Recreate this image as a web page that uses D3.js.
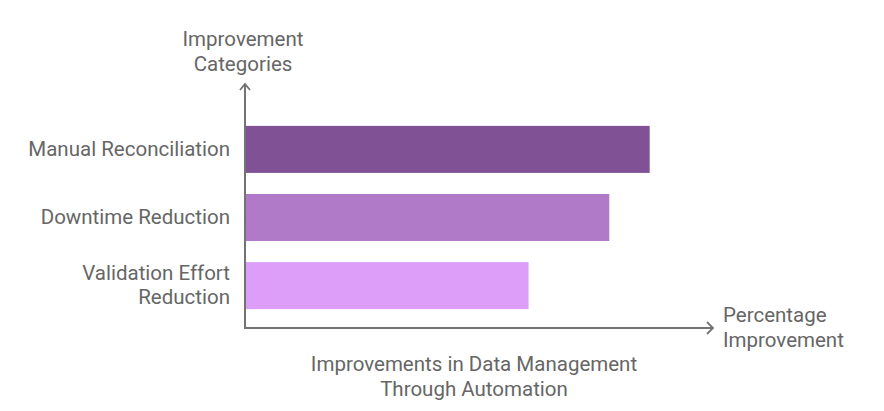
<!DOCTYPE html>
<html><head><meta charset="utf-8">
<script src="https://cdn.jsdelivr.net/npm/d3@7"></script>
<style>html,body{margin:0;padding:0;background:#fff;}</style>
</head><body>
<svg id="c" width="884" height="411"></svg>
<script>
const categories = ["Manual Reconciliation", "Downtime Reduction", "Validation Effort Reduction"];
const values = [50, 45, 35];
const colors = ["#805295", "#b07ac9", "#dc9ef8"];
const labelLines = [["Manual Reconciliation"], ["Downtime Reduction"], ["Validation Effort", "Reduction"]];
const yTitle = ["Improvement", "Categories"];
const xTitle = ["Percentage", "Improvement"];
const chartTitle = ["Improvements in Data Management", "Through Automation"];

const svg = d3.select("#c");
const font = "Roboto, sans-serif";
const fs = 20.5;
const textColor = "#666666";
const axisColor = "#737373";
const x0 = 245, yAxisBottom = 328;

const x = d3.scaleLinear().domain([0, 57.1]).range([246, 707]);
const y = d3.scaleBand().domain(categories).range([115, 320]).paddingInner(0.31).paddingOuter(0.16);

svg.selectAll("rect.bar").data(categories).enter().append("rect")
  .attr("class", "bar")
  .attr("x", x(0))
  .attr("y", d => y(d))
  .attr("width", (d, i) => x(values[i]) - x(0))
  .attr("height", y.bandwidth())
  .attr("fill", (d, i) => colors[i]);

// axes
svg.append("line").attr("x1", x0).attr("y1", yAxisBottom).attr("x2", x0).attr("y2", 84)
  .attr("stroke", axisColor).attr("stroke-width", 2);
svg.append("path").attr("d", `M${x0-5},${90} L${x0},${84} L${x0+5},${90}`)
  .attr("fill", "none").attr("stroke", axisColor).attr("stroke-width", 1.8);
svg.append("line").attr("x1", x0 - 1).attr("y1", yAxisBottom).attr("x2", 713).attr("y2", yAxisBottom)
  .attr("stroke", axisColor).attr("stroke-width", 2);
svg.append("path").attr("d", `M707,${yAxisBottom-6} L713,${yAxisBottom} L707,${yAxisBottom+6}`)
  .attr("fill", "none").attr("stroke", axisColor).attr("stroke-width", 1.8);

// category labels
categories.forEach((c, i) => {
  const lines = labelLines[i];
  const cy = y(c) + y.bandwidth() / 2;
  const lh = 24;
  const t = svg.append("text").attr("text-anchor", "end").attr("font-family", font)
    .attr("font-size", fs).attr("fill", textColor);
  lines.forEach((l, j) => {
    t.append("tspan").attr("x", 230).attr("y", cy + (j - (lines.length - 1) / 2) * lh + 6.5).text(l);
  });
});

function multi(lines, xx, yy, anchor) {
  const t = svg.append("text").attr("text-anchor", anchor).attr("font-family", font)
    .attr("font-size", fs).attr("fill", textColor);
  lines.forEach((l, j) => t.append("tspan").attr("x", xx).attr("y", yy + j * 24.5).text(l));
}
multi(yTitle, 243, 46, "middle");
multi(xTitle, 723, 322, "start");
multi(chartTitle, 474, 371, "middle");
</script>
</body></html>
